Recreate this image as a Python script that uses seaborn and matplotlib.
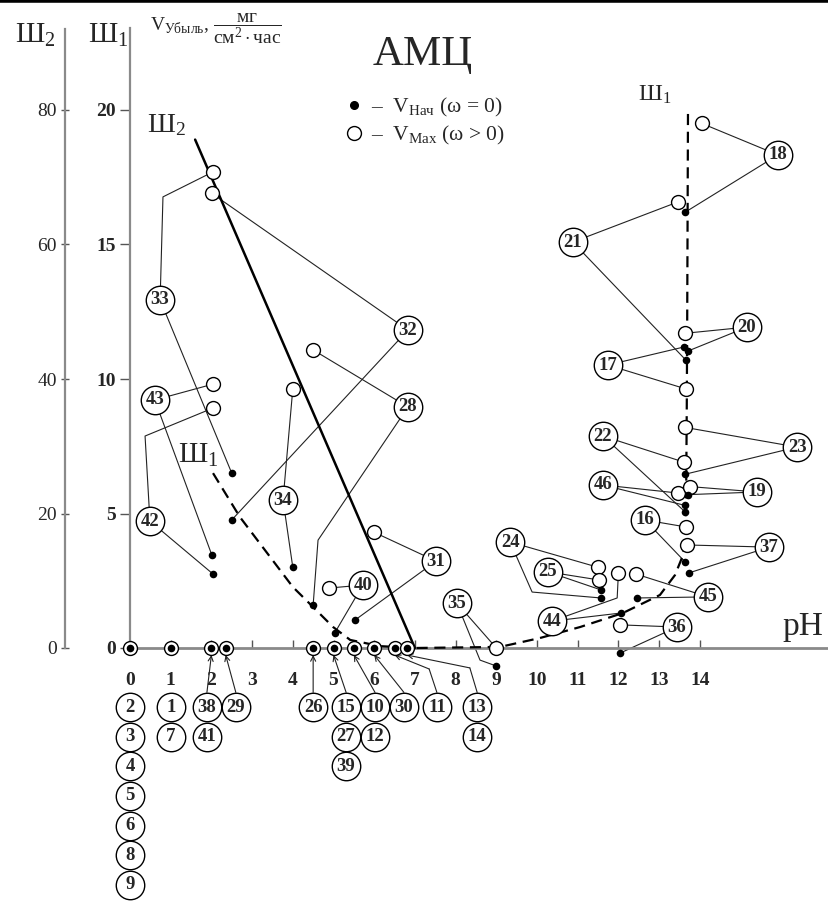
import seaborn as sns
import matplotlib.pyplot as plt
import pandas as pd
import numpy as np
from matplotlib.lines import Line2D
from matplotlib.patches import FancyArrowPatch

# ---- values (pH, V in the Ш1 scale) ----
# samples that stay at V = 0 (both markers lie on the pH axis)
zero_ph = [0, 1, 2, 2.35, 4.5, 5.0, 5.5, 6.0, 6.5, 6.8]
zero_ids = [[2, 3, 4, 5, 6, 8, 9], [1, 7], [38, 41], [29], [26],
            [15, 27, 39], [10, 12], [30], [11], [13, 14]]

# the other samples: V_нач (filled) and V_max (open)
ids = [33, 32, 43, 42, 34, 28, 40, 31, 35, 24, 25, 44,
       45, 36, 37, 16, 46, 19, 22, 23, 17, 20, 21, 18]
ph_nach = [2.5, 2.5, 2.01, 2.04, 4.0, 4.5, 5.03, 5.53, 9.0, 11.57, 11.57, 12.06,
           12.46, 12.04, 13.73, 13.64, 13.64, 13.7, 13.64, 13.64, 13.61, 13.71, 13.66, 13.64]
v_nach = [6.5, 4.76, 3.46, 2.75, 3.0, 1.6, 0.56, 1.04, -0.67, 1.86, 2.16, 1.3,
          1.86, -0.19, 2.79, 3.2, 5.3, 5.7, 5.06, 6.46, 11.19, 11.04, 10.7, 16.2]
ph_max = [2.04, 2.01, 2.04, 2.04, 4.0, 4.5, 4.9, 6.0, 9.0, 11.5, 11.52, 12.0,
          12.43, 12.04, 13.69, 13.66, 13.47, 13.76, 13.61, 13.64, 13.66, 13.64, 13.46, 14.05]
v_max = [17.7, 16.9, 9.81, 8.92, 9.63, 11.08, 2.23, 4.3, 0.0, 3.0, 2.53, 2.79,
         2.75, 0.86, 3.83, 4.5, 5.76, 6.0, 6.91, 8.2, 9.63, 11.7, 16.58, 19.5]

# boundary lines
sh2_ph = [1.6, 7.0]
sh2_v = [18.9, 0.0]
sh1_ph = [2.04, 2.70, 3.37, 4.0, 4.5, 4.99, 5.41, 6.14, 7.0, 9.09, 10.07, 11.06,
          12.11, 13.02, 13.39, 13.59, 13.66, 13.68, 13.69, 13.71]
sh1_v = [6.5, 4.87, 3.53, 2.27, 1.52, 0.78, 0.30, 0.07, 0.0, 0.04, 0.37, 0.78,
         1.3, 1.97, 2.71, 3.46, 4.76, 9.0, 12.0, 20.0]

y_ticks = [0, 5, 10, 15, 20]
y2_ticks = [0, 20, 40, 60, 80]
x_ticks = list(range(15))

# ---- layout: label circles (pH, V) and bends of leader lines ----
label_pos = {33: (0.74, 12.94), 32: (6.83, 11.82), 43: (0.61, 9.22), 42: (0.49, 4.72),
             34: (3.76, 5.50), 28: (6.83, 8.96), 40: (5.72, 2.34), 31: (7.52, 3.23),
             35: (8.03, 1.67), 24: (9.34, 3.94), 25: (10.27, 2.83), 44: (10.37, 1.0),
             45: (14.20, 1.90), 36: (13.44, 0.78), 37: (15.70, 3.75), 16: (12.65, 4.76),
             46: (11.62, 6.06), 19: (15.41, 5.80), 22: (11.62, 7.88), 23: (16.39, 7.47),
             17: (11.74, 10.52), 20: (15.16, 11.93), 21: (10.88, 15.09), 18: (15.92, 18.33)}
bend_max = {33: (0.81, 16.77), 42: (0.37, 7.88), 44: (11.97, 1.86)}
bend_nach = {28: (4.62, 4.01), 35: (8.60, -0.45), 24: (9.88, 2.08)}
zero_lbl_ph = [0, 1.0, 1.89, 2.60, 4.50, 5.31, 6.02, 6.73, 7.54, 8.53]
arrow_bend = {8: (7.35, -0.78), 9: (8.35, -0.74)}

W, H = 829, 901
PX_PH, PX_V = 40.7, 26.9  # pixels per unit

sns.set_theme(style="white")
plt.rcParams['font.family'] = ['Liberation Serif', 'DejaVu Serif']
plt.rcParams['mathtext.fontset'] = 'custom'
plt.rcParams['mathtext.rm'] = 'Liberation Serif'
plt.rcParams['mathtext.it'] = 'Liberation Serif:italic'
plt.rcParams['mathtext.bf'] = 'Liberation Serif:bold'

fig = plt.figure(figsize=(W / 100, H / 100), dpi=100)
ax = fig.add_axes([0, 0, 1, 1])
ax.set_xlim(-130 / PX_PH, (W - 130) / PX_PH)
ax.set_ylim(-(H - 648) / PX_V, 648 / PX_V)

# axes
ax.spines['right'].set_visible(False)
ax.spines['top'].set_color('black')
ax.spines['top'].set_linewidth(4)
ax.spines['left'].set_position(('data', 0))
ax.spines['left'].set_bounds(0, 23.05)
ax.spines['left'].set_color('#8a8a8a')
ax.spines['left'].set_linewidth(1.6)
ax.spines['bottom'].set_position(('data', 0))
ax.spines['bottom'].set_bounds(0, 17.3)
ax.spines['bottom'].set_color('#8a8a8a')
ax.spines['bottom'].set_linewidth(2)

ax.set_xticks(x_ticks)
ax.set_xticklabels([str(t) for t in x_ticks], fontweight='bold')
ax.set_yticks(y_ticks)
ax.set_yticklabels([str(t) for t in y_ticks], fontweight='bold')
ax.tick_params(axis='x', bottom=True, direction='in', length=6, width=1,
               color='#555', pad=17, labelsize=14)
ax.tick_params(axis='y', left=True, direction='out', length=7, width=1,
               color='#555', pad=3, labelsize=14)

# second (Ш2) scale
ax2 = ax.twinx()
ylo, yhi = ax.get_ylim()
ax2.set_ylim(4 * ylo, 4 * yhi)
for s in ['top', 'bottom', 'right']:
    ax2.spines[s].set_visible(False)
ax2.spines['left'].set_visible(True)
ax2.spines['left'].set_position(('data', -65 / PX_PH))
ax2.spines['left'].set_bounds(0, 92)
ax2.spines['left'].set_color('#8a8a8a')
ax2.spines['left'].set_linewidth(1.6)
ax2.yaxis.set_ticks_position('left')
ax2.set_yticks(y2_ticks)
ax2.tick_params(axis='y', left=True, right=False, labelleft=True, labelright=False,
                direction='inout', length=6, width=1, color='#555', pad=3, labelsize=14)
ax2.grid(False)

# boundary lines Ш2 and Ш1
sns.lineplot(x=sh2_ph, y=sh2_v, ax=ax, color='black', lw=1.8, sort=False,
             estimator=None, zorder=3)
sns.lineplot(x=sh1_ph, y=sh1_v, ax=ax, color='black', lw=1.6, sort=False,
             estimator=None, linestyle=(0, (5, 3)), zorder=3)

# leader lines from label circles to the points
line_kw = dict(color='#222', lw=0.8, zorder=2)
for i, sid in enumerate(ids):
    lx, ly = label_pos[sid]
    for (px, py), bends in (((ph_max[i], v_max[i]), bend_max),
                            ((ph_nach[i], v_nach[i]), bend_nach)):
        if sid in bends:
            bx, by = bends[sid]
            ax.plot([lx, bx, px], [ly, by, py], **line_kw)
        else:
            ax.plot([lx, px], [ly, py], **line_kw)

# points
df = pd.DataFrame({'id': ids, 'ph_nach': ph_nach, 'v_nach': v_nach,
                   'ph_max': ph_max, 'v_max': v_max})
sns.scatterplot(data=df, x='ph_max', y='v_max', ax=ax, color='white',
                edgecolor='black', s=100, linewidth=1, zorder=5, legend=False)
sns.scatterplot(data=df, x='ph_nach', y='v_nach', ax=ax, color='black',
                edgecolor='black', s=30, linewidth=0, zorder=6, legend=False)
zero_v = [0.0] * len(zero_ph)
sns.scatterplot(x=zero_ph, y=zero_v, ax=ax, color='white', edgecolor='black',
                s=100, linewidth=1, zorder=5, legend=False)
sns.scatterplot(x=zero_ph, y=zero_v, ax=ax, color='black', edgecolor='black',
                s=30, linewidth=0, zorder=6, legend=False)
ax.set_xlabel('')
ax.set_ylabel('')


def num_label(x, y, sid):
    ax.scatter([x], [y], s=420, color='white', edgecolor='black', linewidth=1, zorder=7)
    ax.text(x, y, str(sid), ha='center', va='center', fontsize=13.5,
            fontweight='bold', zorder=8)


for sid in ids:
    num_label(*label_pos[sid], sid)

# labels for the zero samples, stacked under the axis
for k, (ph0, grp) in enumerate(zip(zero_ph, zero_ids)):
    lx = zero_lbl_ph[k]
    for r, sid in enumerate(grp):
        num_label(lx, -2.2 - 1.1 * r, sid)
    if k >= 2:
        start = (lx, -2.2 + 0.55)
        if k in arrow_bend:
            bx, by = arrow_bend[k]
            ax.plot([start[0], bx], [start[1], by], **line_kw)
            start = (bx, by)
        ax.add_patch(FancyArrowPatch(start, (ph0, -0.26), arrowstyle='->',
                                     mutation_scale=9, lw=0.8, color='#222',
                                     shrinkA=0, shrinkB=0, zorder=4))

# legend
handles = [Line2D([], [], ls='', marker='o', color='black', markersize=5.5),
           Line2D([], [], ls='', marker='o', mfc='white', mec='black', markersize=10, mew=1)]
labels = [r'–  V$_{\mathrm{Нач}}$ (ω = 0)', r'–  V$_{\mathrm{Max}}$ (ω > 0)']
ax.legend(handles, labels, loc='upper left', bbox_to_anchor=(343 / W, 1 - 96 / H),
          frameon=False, fontsize=15.5, handletextpad=0.3, handlelength=1.0,
          labelspacing=0.25, borderpad=0, borderaxespad=0)

# texts
fig.text(15 / W, 1 - 35 / H, r'Ш$_2$', fontsize=21, ha='left', va='center')
fig.text(88 / W, 1 - 35 / H, r'Ш$_1$', fontsize=21, ha='left', va='center')
fig.text(150 / W, 1 - 29 / H,
         r'V$_{\mathrm{Убыль}}$, $\dfrac{\mathrm{мг}}{\mathrm{см}^{2}\cdot\mathrm{час}}$',
         fontsize=14, ha='left', va='center')
fig.text(423 / W, 1 - 55 / H, 'АМЦ', fontsize=31, ha='center', va='center')
fig.text(147 / W, 1 - 125 / H, r'Ш$_2$', fontsize=20, ha='left', va='center')
fig.text(178 / W, 1 - 455 / H, r'Ш$_1$', fontsize=21, ha='left', va='center')
fig.text(638 / W, 1 - 95 / H, r'Ш$_1$', fontsize=17, ha='left', va='center')
fig.text(803 / W, 1 - 627 / H, 'pH', fontsize=24, ha='center', va='center')

fig.savefig('out.png', dpi=100)
